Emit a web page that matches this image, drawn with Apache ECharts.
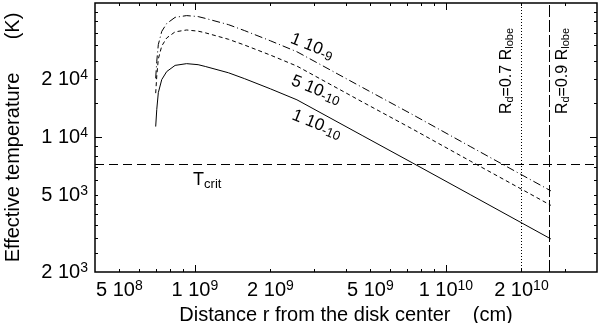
<!DOCTYPE html>
<html>
<head>
<meta charset="utf-8">
<script src="https://cdn.jsdelivr.net/npm/echarts@6/dist/echarts.min.js"></script>
<style>
html,body{margin:0;padding:0;background:#fff}
#chart{width:600px;height:323px}
</style>
</head>
<body>
<div id="chart"></div>
<script>
// disk temperature profiles for three accretion rates
var FONT = '"Liberation Sans", Arial, Helvetica, sans-serif';

var radius   = [6.98e8, 7.05e8, 7.15e8, 7.38e8, 7.72e8, 8.34e8, 9.27e8, 1.03e9, 1.10e9, 1.36e9, 1.58e9, 2.0e9, 2.55e9, 4.67e9, 7.33e9, 1.25e10, 2.62e10];
var tempLow  = [11400, 14000, 17100, 20000, 22000, 23700, 24200, 23900, 23400, 21700, 20200, 17900, 15700, 10200, 7400, 5050, 2970];
var tempMid  = [17000, 20900, 25600, 29900, 32900, 35400, 36200, 35700, 35000, 32400, 30200, 26800, 23500, 15250, 11100, 7550, 4440];
var tempHigh = [20300, 24900, 30400, 35600, 39100, 42100, 43000, 42500, 41600, 38600, 35900, 31800, 27900, 18140, 13200, 8980, 5280];

var curveNames  = ['1 10^-10', '5 10^-10', '1 10^-9'];
var curveLabelAt = [[3.06e9, 11700], [3.04e9, 17700], [2.93e9, 29700]];

var tCrit = 7300;
var tCritLabelAt = [1.12e9, 6000];
var rLobe = [2.0e10, 2.58e10];
var rLobeNames = ['R_d=0.7 R_lobe', 'R_d=0.9 R_lobe'];

var xMin = 4e8, xMax = 4e10, yMin = 2000, yMax = 50000;
var xTickVals   = [5e8, 1e9, 2e9, 5e9, 1e10, 2e10];
var xTickLabels = ['5 10^8', '1 10^9', '2 10^9', '5 10^9', '1 10^10', '2 10^10'];
var xMajorTicks = [1e9, 1e10];
var xMinorTicks = [5e8, 6e8, 7e8, 8e8, 9e8, 2e9, 3e9, 4e9, 5e9, 6e9, 7e9, 8e9, 9e9, 2e10, 3e10];
var yTickVals   = [2000, 5000, 10000, 20000];
var yTickLabels = ['2 10^3', '5 10^3', '1 10^4', '2 10^4'];
var yMajorTicks = [10000];
var yMinorTicks = [2500, 3000, 3500, 4000, 4500, 5000, 6000, 7000, 8000, 9000, 15000, 20000, 25000, 30000, 35000, 40000, 45000];

function supText(s) {
    var p = s.split('^');
    return p.length > 1 ? p[0] + '{sup|' + p[1] + '}' : s;
}
function lowText(s) {
    var p = s.split('^');
    return p.length > 1 ? p[0] + '{low|' + p[1] + '}' : s;
}
function subText(s) {
    return s.replace(/_(\w+)/g, '{sub|$1}');
}
function lookup(vals, labels) {
    return function (v) {
        for (var i = 0; i < vals.length; i++) {
            if (Math.abs(Math.log10(v) - Math.log10(vals[i])) < 1e-6) return supText(labels[i]);
        }
        return '';
    };
}

var tickRich = {
    sup: {fontSize: 14, lineHeight: 14, verticalAlign: 'top', fontFamily: FONT, color: '#000'}
};

function axisBase(type, pos, min, max) {
    return {
        type: 'log', logBase: 10, min: min, max: max, position: pos,
        axisLine: {show: false}, splitLine: {show: false},
        axisLabel: {show: false},
        axisTick: {show: false}
    };
}
function tickAxis(type, pos, min, max, ticks, len) {
    var a = axisBase(type, pos, min, max);
    a.axisTick = {show: true, inside: true, length: len, customValues: ticks,
                  lineStyle: {color: '#000', width: 1}};
    return a;
}

var xMain = tickAxis('x', 'bottom', xMin, xMax, xMajorTicks, 7);
xMain.axisLabel = {
    show: true, customValues: xTickVals, formatter: lookup(xTickVals, xTickLabels),
    color: '#000', fontSize: 20, lineHeight: 22, fontFamily: FONT, margin: 7, rich: tickRich
};
xMain.name = 'Distance r from the disk center    (cm)';
xMain.nameLocation = 'middle';
xMain.nameGap = 29;
xMain.nameTextStyle = {color: '#000', fontSize: 20, fontFamily: FONT};

var yMain = tickAxis('y', 'left', yMin, yMax, yMajorTicks, 7);
yMain.axisLabel = {
    show: true, customValues: yTickVals, formatter: lookup(yTickVals, yTickLabels),
    color: '#000', fontSize: 20, lineHeight: 22, fontFamily: FONT, margin: 7, rich: tickRich
};
yMain.name = 'Effective temperature      (K)';
yMain.nameLocation = 'middle';
yMain.nameGap = 72;
yMain.nameTextStyle = {color: '#000', fontSize: 20, fontFamily: FONT};

var chart = echarts.init(document.getElementById('chart'));

var lineStyles = [
    {color: '#000', width: 1, type: 'solid'},
    {color: '#000', width: 1, type: [4, 3]},
    {color: '#000', width: 1, type: [8, 3, 1, 3]}
];
var temps = [tempLow, tempMid, tempHigh];

var series = temps.map(function (t, k) {
    var s = {
        type: 'line',
        data: radius.map(function (r, i) { return [r, t[i]]; }),
        showSymbol: false,
        smooth: false,
        lineStyle: lineStyles[k],
        silent: true,
        markPoint: {
            symbol: 'circle', symbolSize: 0, silent: true,
            label: {
                show: true, position: 'inside', rotate: -22,
                color: '#000', fontSize: 17, lineHeight: 20, fontFamily: FONT,
                formatter: lowText(curveNames[k]),
                rich: {low: {fontSize: 13, lineHeight: 12, verticalAlign: 'bottom', fontFamily: FONT, color: '#000'}}
            },
            data: [{coord: curveLabelAt[k]}]
        }
    };
    return s;
});

var subRich = {sub: {fontSize: 11, lineHeight: 10, verticalAlign: 'bottom', fontFamily: FONT, color: '#000'}};

series[0].markLine = {
    symbol: 'none', silent: true, animation: false,
    data: [
        {yAxis: tCrit, lineStyle: {color: '#000', width: 1, type: [9, 5]}, label: {show: false}},
        {xAxis: rLobe[0], lineStyle: {color: '#000', width: 1, type: [1, 2]},
         label: {show: true, position: 'insideEndTop', distance: [25, 6], formatter: subText(rLobeNames[0]),
                 color: '#000', fontSize: 16, lineHeight: 18, fontFamily: FONT, rich: subRich}},
        {xAxis: rLobe[1], lineStyle: {color: '#000', width: 1, type: [12, 3]},
         label: {show: true, position: 'insideEndBottom', distance: [25, 4], formatter: subText(rLobeNames[1]),
                 color: '#000', fontSize: 16, lineHeight: 18, fontFamily: FONT, rich: subRich}}
    ]
};
series[0].markPoint.data.push({
    coord: tCritLabelAt,
    label: {rotate: 0, formatter: subText('T_crit'), fontSize: 18, lineHeight: 22,
            rich: {sub: {fontSize: 13, lineHeight: 14, verticalAlign: 'bottom', fontFamily: FONT, color: '#000'}}}
});

var option = {
    animation: false,
    grid: {left: 95, right: 3, top: 3, bottom: 51, outerBoundsMode: 'none', containLabel: false,
           show: true, borderColor: '#000', borderWidth: 1.5, backgroundColor: 'transparent'},
    xAxis: [
        xMain,
        tickAxis('x', 'bottom', xMin, xMax, xMinorTicks, 3),
        tickAxis('x', 'top', xMin, xMax, xMajorTicks, 7),
        tickAxis('x', 'top', xMin, xMax, xMinorTicks, 3)
    ],
    yAxis: [
        yMain,
        tickAxis('y', 'left', yMin, yMax, yMinorTicks, 3),
        tickAxis('y', 'right', yMin, yMax, yMajorTicks, 7),
        tickAxis('y', 'right', yMin, yMax, yMinorTicks, 3)
    ],
    series: series
};
chart.setOption(option);
</script>
</body>
</html>
